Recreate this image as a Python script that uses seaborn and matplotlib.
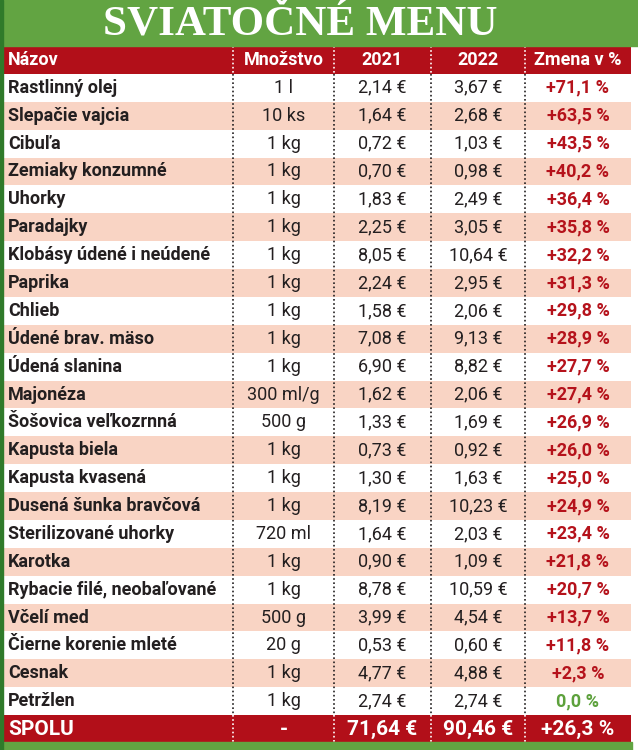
import numpy as np
import pandas as pd
import seaborn as sns
import matplotlib
matplotlib.use("Agg")
import matplotlib.pyplot as plt
from matplotlib import transforms
from matplotlib.colors import ListedColormap
from matplotlib.patches import Rectangle

# ---------------- data ----------------
title = "SVIATOČNÉ MENU"
headers = ["Názov", "Množstvo", "2021", "2022", "Zmena v %"]
names = ["Rastlinný olej", "Slepačie vajcia", "Cibuľa", "Zemiaky konzumné", "Uhorky",
         "Paradajky", "Klobásy údené i neúdené", "Paprika", "Chlieb", "Údené brav. mäso",
         "Údená slanina", "Majonéza", "Šošovica veľkozrnná", "Kapusta biela",
         "Kapusta kvasená", "Dusená šunka bravčová", "Sterilizované uhorky", "Karotka",
         "Rybacie filé, neobaľované", "Včelí med", "Čierne korenie mleté", "Cesnak",
         "Petržlen"]
quantities = ["1 l", "10 ks", "1 kg", "1 kg", "1 kg", "1 kg", "1 kg", "1 kg", "1 kg",
              "1 kg", "1 kg", "300 ml/g", "500 g", "1 kg", "1 kg", "1 kg", "720 ml",
              "1 kg", "1 kg", "500 g", "20 g", "1 kg", "1 kg"]
price_2021 = [2.14, 1.64, 0.72, 0.70, 1.83, 2.25, 8.05, 2.24, 1.58, 7.08, 6.90, 1.62,
              1.33, 0.73, 1.30, 8.19, 1.64, 0.90, 8.78, 3.99, 0.53, 4.77, 2.74]
price_2022 = [3.67, 2.68, 1.03, 0.98, 2.49, 3.05, 10.64, 2.95, 2.06, 9.13, 8.82, 2.06,
              1.69, 0.92, 1.63, 10.23, 2.03, 1.09, 10.59, 4.54, 0.60, 4.88, 2.74]
change_pct = [71.1, 63.5, 43.5, 40.2, 36.4, 35.8, 32.2, 31.3, 29.8, 28.9, 27.7, 27.4,
              26.9, 26.0, 25.0, 24.9, 23.4, 21.8, 20.7, 13.7, 11.8, 2.3, 0.0]
total_label = "SPOLU"
total_qty = "-"
total_2021 = 71.64
total_2022 = 90.46
total_change = 26.3

# ---------------- style ----------------
GREEN = "#62a442"
DKGREEN = "#2f7a2a"
RED = "#b20f19"
SALMON = "#f9d4c4"
TXT = "#231f20"
PCT_RED = "#b5121b"
PCT_GREEN = "#5da13c"

sns.set_theme(style="white")
plt.rcParams["font.family"] = ["Roboto", "DejaVu Sans"]

W, H = 638, 750
fig = plt.figure(figsize=(W / 100, H / 100), dpi=100, facecolor="white")

# background bands
fig.patches.append(Rectangle((0, 1 - 46 / H), 1, 46 / H, transform=fig.transFigure,
                             color=GREEN, zorder=0))
fig.patches.append(Rectangle((0, 0), 632 / W, 8 / H, transform=fig.transFigure,
                             color=GREEN, zorder=0))
fig.patches.append(Rectangle((0, 0), 3 / W, 1, transform=fig.transFigure,
                             color=DKGREEN, zorder=0))

fig.text(300 / W, 1 - 25 / H, title, ha="center", va="center", color="white",
         fontsize=31, fontweight="bold", family=["Liberation Serif", "DejaVu Serif"])

# table stripes via heatmap
n = len(names)
codes = [0] + [1 if i % 2 == 0 else 2 for i in range(n)] + [0]
df = pd.DataFrame({"row": codes})
left, right = 3, 631
top, bottom = 46, 743
ax = fig.add_axes([left / W, 1 - bottom / H, (right - left) / W, (bottom - top) / H])
sns.heatmap(df, ax=ax, cmap=ListedColormap([RED, "white", SALMON]), vmin=-0.5, vmax=2.5,
            cbar=False, xticklabels=False, yticklabels=False)
ax.set_xlabel("")
ax.set_ylabel("")
for s in ax.spines.values():
    s.set_visible(False)

tr = transforms.blended_transform_factory(ax.transAxes, ax.transData)

def fx(px):
    return (px - left) / (right - left)

seps = [233, 334, 431, 525]
centers = [8, 283.5, 382.5, 478, 578]
nrows = n + 2
for sx in seps:
    ax.plot([fx(sx), fx(sx)], [1, nrows - 1], transform=tr, color=TXT, lw=1.2,
            ls=(0, (1, 1.5)), zorder=3)
    for (a, b) in [(0, 1), (nrows - 1, nrows)]:
        ax.plot([fx(sx), fx(sx)], [a, b], transform=tr, color="white", lw=1.2,
                ls=(0, (1, 1.5)), zorder=3)

def eur(v):
    return f"{v:.2f}".replace(".", ",") + " €"

def pct(v):
    s = f"{v:.1f}".replace(".", ",") + " %"
    return ("+" + s) if v > 0 else s

FS = 13
for j, h in enumerate(headers):
    ax.text(fx(centers[j]), 0.5, h, transform=tr, ha="left" if j == 0 else "center",
            va="center", color="white", fontsize=FS, fontweight="bold", zorder=4)

for i in range(n):
    y = i + 1.5
    ax.text(fx(centers[0]), y, names[i], transform=tr, ha="left", va="center",
            color=TXT, fontsize=FS, fontweight="bold", zorder=4)
    ax.text(fx(centers[1]), y, quantities[i], transform=tr, ha="center", va="center",
            color=TXT, fontsize=FS, zorder=4)
    ax.text(fx(centers[2]), y, eur(price_2021[i]), transform=tr, ha="center", va="center",
            color=TXT, fontsize=FS, zorder=4)
    ax.text(fx(centers[3]), y, eur(price_2022[i]), transform=tr, ha="center", va="center",
            color=TXT, fontsize=FS, zorder=4)
    c = PCT_GREEN if change_pct[i] == 0 else PCT_RED
    ax.text(fx(centers[4]), y, pct(change_pct[i]), transform=tr, ha="center", va="center",
            color=c, fontsize=FS, fontweight="bold", zorder=4)

y = nrows - 0.5
tot = [total_label, total_qty, eur(total_2021), eur(total_2022), pct(total_change)]
for j, t in enumerate(tot):
    ax.text(fx(centers[j]), y, t, transform=tr, ha="left" if j == 0 else "center",
            va="center", color="white", fontsize=15, fontweight="bold", zorder=4)

fig.savefig("out.png", dpi=100, facecolor="white")
